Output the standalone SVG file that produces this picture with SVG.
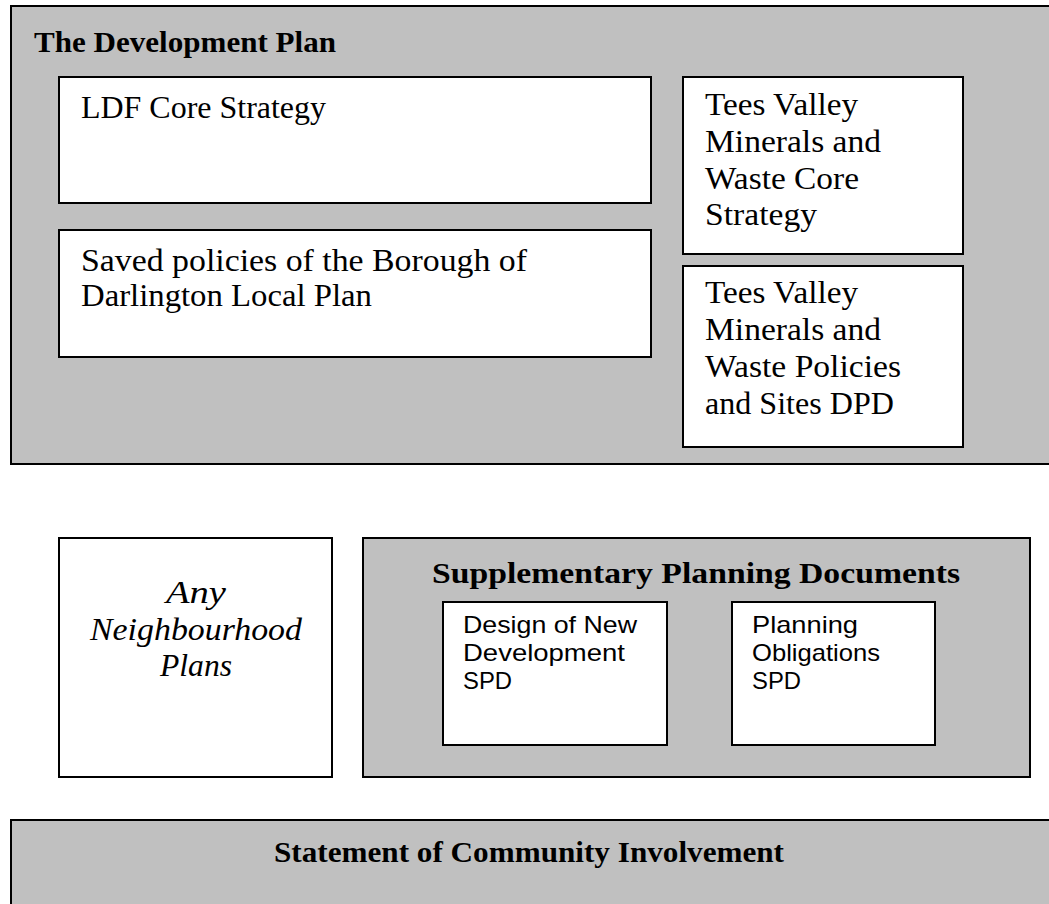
<svg xmlns="http://www.w3.org/2000/svg" width="1049" height="904" viewBox="0 0 1049 904">
<style>
.g{fill:#c0c0c0;stroke:#000;stroke-width:2}
.w{fill:#fff;stroke:#000;stroke-width:2}
.s{font-family:"Liberation Serif",serif;font-size:31px;fill:#000}
.b{font-family:"Liberation Serif",serif;font-size:30px;font-weight:bold;fill:#000}
.i{font-family:"Liberation Serif",serif;font-size:31px;font-style:italic;fill:#000}
.a{font-family:"Liberation Sans",Arial,sans-serif;font-size:24px;fill:#000}
</style>
<rect width="1049" height="904" fill="#fff"/>
<g id="development-plan">
<rect class="g" x="11" y="6" width="1040" height="458"/>
<text class="b" x="34" y="52" textLength="302" lengthAdjust="spacingAndGlyphs">The Development Plan</text>
</g>
<g id="ldf-core-strategy">
<rect class="w" x="59" y="77" width="592" height="126"/>
<text class="s" x="81" y="118" textLength="245" lengthAdjust="spacingAndGlyphs">LDF Core Strategy</text>
</g>
<g id="saved-policies">
<rect class="w" x="59" y="230" width="592" height="127"/>
<text class="s" x="81" y="271" textLength="446" lengthAdjust="spacingAndGlyphs">Saved policies of the Borough of</text>
<text class="s" x="81" y="306" textLength="291" lengthAdjust="spacingAndGlyphs">Darlington Local Plan</text>
</g>
<g id="tv-core-strategy">
<rect class="w" x="683" y="77" width="280" height="177"/>
<text class="s" x="705" y="115" textLength="153" lengthAdjust="spacingAndGlyphs">Tees Valley</text>
<text class="s" x="705" y="152" textLength="176" lengthAdjust="spacingAndGlyphs">Minerals and</text>
<text class="s" x="705" y="189" textLength="154" lengthAdjust="spacingAndGlyphs">Waste Core</text>
<text class="s" x="705" y="225" textLength="112" lengthAdjust="spacingAndGlyphs">Strategy</text>
</g>
<g id="tv-policies-sites">
<rect class="w" x="683" y="266" width="280" height="181"/>
<text class="s" x="705" y="303" textLength="153" lengthAdjust="spacingAndGlyphs">Tees Valley</text>
<text class="s" x="705" y="340" textLength="176" lengthAdjust="spacingAndGlyphs">Minerals and</text>
<text class="s" x="705" y="377" textLength="196" lengthAdjust="spacingAndGlyphs">Waste Policies</text>
<text class="s" x="705" y="414" textLength="189" lengthAdjust="spacingAndGlyphs">and Sites DPD</text>
</g>
<g id="neighbourhood-plans">
<rect class="w" x="59" y="538" width="273" height="239"/>
<text class="i" x="196" y="603" text-anchor="middle" textLength="60" lengthAdjust="spacingAndGlyphs">Any</text>
<text class="i" x="196" y="640" text-anchor="middle" textLength="212" lengthAdjust="spacingAndGlyphs">Neighbourhood</text>
<text class="i" x="196" y="676" text-anchor="middle" textLength="72" lengthAdjust="spacingAndGlyphs">Plans</text>
</g>
<g id="spd">
<rect class="g" x="363" y="538" width="667" height="239"/>
<text class="b" x="432" y="583" textLength="528" lengthAdjust="spacingAndGlyphs">Supplementary Planning Documents</text>
</g>
<g id="design-spd">
<rect class="w" x="443" y="602" width="224" height="143"/>
<text class="a" x="463" y="633" textLength="174" lengthAdjust="spacingAndGlyphs">Design of New</text>
<text class="a" x="463" y="661" textLength="162" lengthAdjust="spacingAndGlyphs">Development</text>
<text class="a" x="463" y="689" textLength="49" lengthAdjust="spacingAndGlyphs">SPD</text>
</g>
<g id="obligations-spd">
<rect class="w" x="732" y="602" width="203" height="143"/>
<text class="a" x="752" y="633" textLength="106" lengthAdjust="spacingAndGlyphs">Planning</text>
<text class="a" x="752" y="661" textLength="128" lengthAdjust="spacingAndGlyphs">Obligations</text>
<text class="a" x="752" y="689" textLength="49" lengthAdjust="spacingAndGlyphs">SPD</text>
</g>
<g id="sci">
<rect class="g" x="11" y="820" width="1040" height="100"/>
<text class="b" x="529" y="862" text-anchor="middle" textLength="510" lengthAdjust="spacingAndGlyphs">Statement of Community Involvement</text>
</g>
<g id="connectors"></g>
</svg>
